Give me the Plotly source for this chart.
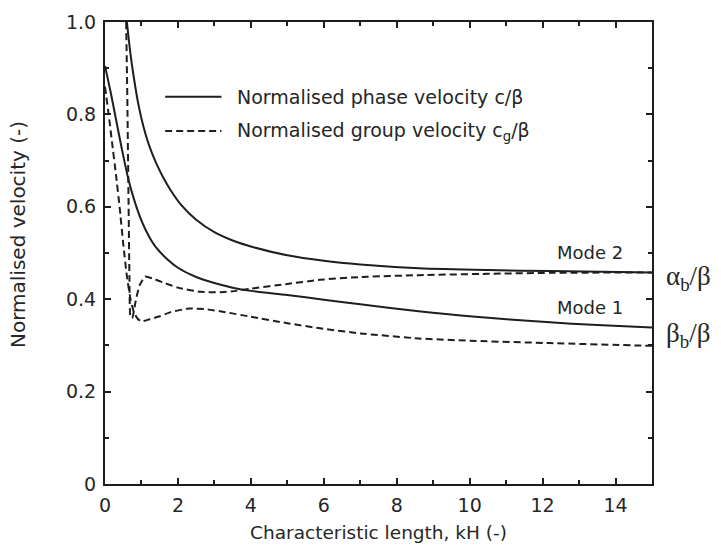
import plotly.graph_objects as go

# ---- data ----
m1_phase_kh = [0, 0.15, 0.3, 0.45, 0.64, 0.8, 1.0, 1.2, 1.4, 1.7, 2.0, 2.5, 3.0, 3.5, 4.0, 5.0, 6.0, 7.0, 8.6, 10.0, 12.2, 13.5, 15]
m1_phase_v = [0.905, 0.85, 0.79, 0.73, 0.66, 0.615, 0.57, 0.537, 0.512, 0.487, 0.468, 0.448, 0.435, 0.425, 0.418, 0.409, 0.399, 0.389, 0.374, 0.363, 0.350, 0.344, 0.339]

m2_phase_kh = [0.6, 0.7, 0.8, 0.92, 1.05, 1.2, 1.4, 1.6, 1.8, 2.1, 2.5, 3.0, 3.5, 4.0, 5.0, 6.0, 7.0, 8.6, 10.5, 12.2, 15]
m2_phase_v = [1.0, 0.93, 0.875, 0.82, 0.775, 0.735, 0.695, 0.663, 0.636, 0.603, 0.572, 0.545, 0.527, 0.514, 0.495, 0.483, 0.475, 0.467, 0.463, 0.461, 0.458]

m1_group_kh = [0, 0.1, 0.2, 0.3, 0.4, 0.5, 0.6, 0.7, 0.8, 0.9, 1.0, 1.2, 1.5, 1.8, 2.3, 2.8, 3.3, 4.0, 5.0, 5.9, 7.0, 8.6, 10.0, 12.2, 15]
m1_group_v = [0.86, 0.80, 0.735, 0.67, 0.60, 0.52, 0.45, 0.40, 0.37, 0.357, 0.352, 0.356, 0.363, 0.372, 0.38, 0.378, 0.372, 0.362, 0.348, 0.337, 0.326, 0.315, 0.31, 0.305, 0.299]

m2_group_kh = [0.58, 0.61, 0.64, 0.67, 0.70, 0.75, 0.85, 0.95, 1.1, 1.3, 1.6, 2.0, 2.6, 3.15, 3.6, 4.0, 5.0, 5.9, 7.0, 8.6, 10.5, 12.2, 15]
m2_group_v = [1.0, 0.85, 0.65, 0.45, 0.36, 0.36, 0.40, 0.43, 0.449, 0.445, 0.436, 0.425, 0.416, 0.415, 0.418, 0.423, 0.433, 0.442, 0.448, 0.452, 0.455, 0.457, 0.458]

x_tickvals = [0, 2, 4, 6, 8, 10, 12, 14]
x_ticktext = ["0", "2", "4", "6", "8", "10", "12", "14"]
y_tickvals = [0, 0.2, 0.4, 0.6, 0.8, 1.0]
y_ticktext = ["0", "0.2", "0.4", "0.6", "0.8", "1.0"]

x_title = "Characteristic length, kH (-)"
y_title = "Normalised velocity (-)"
legend_labels = ["Normalised phase velocity c/β", "Normalised group velocity c<sub>g</sub>/β"]
mode_labels = ["Mode 1", "Mode 2"]
mode_label_pos = [(13.3, 0.381), (13.3, 0.502)]
bound_labels = ["α<sub>b</sub>/β", "β<sub>b</sub>/β"]
bound_values = [0.446, 0.322]

INK = "#1e1e1e"
TXT = "#262626"
FONT = "DejaVu Sans, Verdana, sans-serif"
DASH = "7px,4px"

fig = go.Figure()
for kh, v in [(m1_phase_kh, m1_phase_v), (m2_phase_kh, m2_phase_v)]:
    fig.add_trace(go.Scatter(x=kh, y=v, mode="lines", line=dict(color=INK, width=2, shape="spline", smoothing=0.8),
                             showlegend=False, hoverinfo="skip"))
for kh, v in [(m1_group_kh, m1_group_v), (m2_group_kh, m2_group_v)]:
    fig.add_trace(go.Scatter(x=kh, y=v, mode="lines", line=dict(color=INK, width=2, dash=DASH, shape="spline", smoothing=0.4),
                             showlegend=False, hoverinfo="skip"))

axis_common = dict(showline=True, linecolor=INK, linewidth=2, mirror="ticks", ticks="inside",
                   ticklen=6, tickwidth=1.5, tickcolor=INK, showgrid=False, zeroline=False,
                   ticklabelstandoff=3, automargin=False, tickfont=dict(family=FONT, size=19, color=TXT))
fig.update_xaxes(range=[0, 15], tickmode="array", tickvals=x_tickvals, ticktext=x_ticktext,
                 minor=dict(dtick=1, ticks="inside", ticklen=4, tickcolor=INK),
                 title=dict(text=x_title, font=dict(family=FONT, size=18.5, color=TXT), standoff=11),
                 **axis_common)
fig.update_yaxes(range=[0, 1.0], tickmode="array", tickvals=y_tickvals, ticktext=y_ticktext,
                 minor=dict(dtick=0.1, ticks="inside", ticklen=4, tickcolor=INK),
                 **axis_common)

# y-axis title (placed as in the reference, slightly above the axis centre)
fig.add_annotation(xref="paper", yref="paper", x=-0.159, y=0.539, text=y_title, textangle=-90,
                   showarrow=False, xanchor="center", yanchor="middle",
                   font=dict(family=FONT, size=20, color=TXT))

# manual legend (sample lines + text)
leg_y = [0.838, 0.764]
for i, (lbl, dash) in enumerate(zip(legend_labels, ["solid", DASH])):
    fig.add_shape(type="line", xref="paper", yref="paper", x0=0.11, x1=0.213, y0=leg_y[i], y1=leg_y[i],
                  line=dict(color=INK, width=2, dash=dash))
    fig.add_annotation(xref="paper", yref="paper", x=0.238, y=leg_y[i], text=lbl, showarrow=False,
                       xanchor="left", yanchor="middle", font=dict(family=FONT, size=19, color=TXT))

# mode labels
for lbl, (mx, my) in zip(mode_labels, mode_label_pos):
    fig.add_annotation(x=mx, y=my, text=lbl, showarrow=False, font=dict(family=FONT, size=18, color=TXT))

# bound labels on the right
for lbl, val in zip(bound_labels, bound_values):
    fig.add_annotation(xref="paper", x=1.022, y=val, text=lbl, showarrow=False, xanchor="left",
                       font=dict(family="Liberation Serif, Times New Roman, serif", size=27, color=TXT))

fig.update_layout(width=721, height=548, margin=dict(l=105, r=69, t=22, b=64),
                  plot_bgcolor="white", paper_bgcolor="white", showlegend=False)

fig.write_html("out.html")
